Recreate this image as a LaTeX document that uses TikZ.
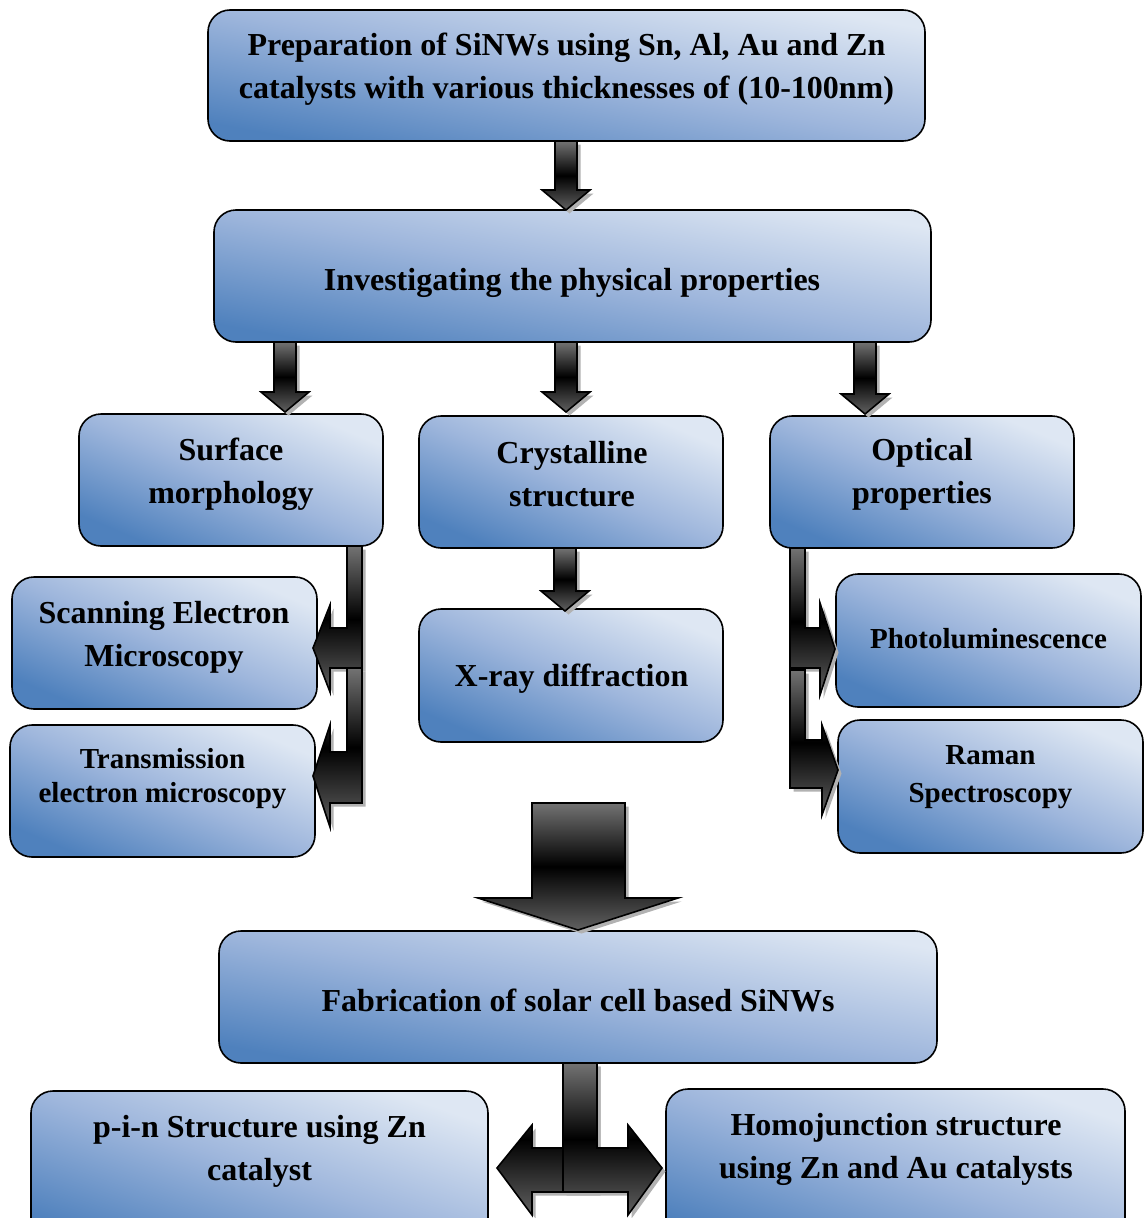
\documentclass[tikz,border=0pt]{standalone}
\usepackage{fontspec}
\setmainfont{Liberation Serif}
\usetikzlibrary{calc}
\definecolor{bdark}{RGB}{79,129,189}
\definecolor{bmid}{RGB}{158,182,220}
\definecolor{blight}{RGB}{222,231,243}
\tikzset{
  box/.style={draw=black, line width=1.6pt, rounded corners=22pt,
    top color=blight, bottom color=bdark, middle color=bmid, shading angle=#1, inner sep=0pt},
  box/.default=-23,
  txt/.style={font=\bfseries\fontsize{32}{43}\selectfont, align=center, text=black, inner sep=0pt},
  txtsmall/.style={txt, font=\bfseries\fontsize{29}{34}\selectfont},
  arr/.style={draw=black, line width=1.6pt, line join=miter,
    top color=black!55, bottom color=black!62, middle color=black},
  arrsh/.style={fill=black!30, draw=none},
}
\newcommand\fatarrow[1]{\path[arrsh, shift={(3.5,3.5)}] #1; \path[arr] #1;}
\newcommand\downar[3]{\fatarrow{(#1-11,#2) -- (#1-11,#3-20) -- (#1-24,#3-20) -- (#1,#3) -- (#1+24,#3-20) -- (#1+11,#3-20) -- (#1+11,#2) -- cycle}}
\begin{document}
\begin{tikzpicture}[x=1pt,y=-1pt]
\clip (0,0) rectangle (1144,1218);
\fill[white] (0,0) rectangle (1144,1218);
% boxes
\node[box=-10.4, minimum width=717pt, minimum height=131pt] (prep) at (566.5,75.5) {};
\node[box=-10.4, minimum width=717pt, minimum height=132pt] (inv) at (572.5,276) {};
\node[box, minimum width=304pt, minimum height=132pt] (surf) at (231,480) {};
\node[box, minimum width=304pt, minimum height=132pt] (cryst) at (571,482) {};
\node[box, minimum width=304pt, minimum height=132pt] (opt) at (922,482) {};
\node[box, minimum width=305pt, minimum height=132pt] (sem) at (164.5,643) {};
\node[box, minimum width=305pt, minimum height=132pt] (tem) at (162.5,791) {};
\node[box, minimum width=304pt, minimum height=133pt] (xrd) at (571,675.5) {};
\node[box, minimum width=305pt, minimum height=133pt] (pl) at (988.5,640.5) {};
\node[box, minimum width=305pt, minimum height=133pt] (raman) at (990.5,786.5) {};
\node[box=-10.4, minimum width=718pt, minimum height=132pt] (fab) at (578,997) {};
\node[box=-19, minimum width=457pt, minimum height=159pt] (pin) at (259.5,1170.5) {};
\node[box=-19, minimum width=459pt, minimum height=161pt] (homo) at (895.5,1169.5) {};
% texts
\node[txt] (prep-t) at (566.5,69) {Preparation of SiNWs using Sn, Al, Au and Zn\\catalysts with various thicknesses of (10-100nm)};
\node[txt] (inv-t) at (572,283) {Investigating the physical properties};
\node[txt] (surf-t) at (231,474) {Surface\\morphology};
\node[txt] (cryst-t) at (572,474.5) {Crystalline\\structure};
\node[txt] (opt-t) at (922,474.5) {Optical\\properties};
\node[txt] (sem-t) at (164,637) {Scanning Electron\\Microscopy};
\node[txtsmall] (tem-t) at (162.5,779) {Transmission\\electron microscopy};
\node[txt] (xrd-t) at (571.5,679) {X-ray diffraction};
\node[txtsmall] (pl-t) at (988.5,639) {Photoluminescence};
\node[txtsmall, font=\bfseries\fontsize{29}{38}\selectfont] (raman-t) at (990.5,777) {Raman\\Spectroscopy};
\node[txt] (fab-t) at (578,1000) {Fabrication of solar cell based SiNWs};
\node[txt] (pin-t) at (259.5,1151) {p-i-n Structure using Zn\\catalyst};
\node[txt] (homo-t) at (896,1149) {Homojunction structure\\using Zn and Au catalysts};
% straight arrows
\downar{566}{141}{210}
\downar{285}{342}{412}
\downar{566}{342}{412}
\downar{865}{342}{414}
\downar{565}{548}{611}
% left bent arrows
\fatarrow{(347,546) -- (347,628) -- (330,628) -- (330,605) -- (313,648) -- (330,692) -- (330,668) -- (362,668) -- (362,546) -- cycle}
\fatarrow{(347,668) -- (347,752) -- (330,752) -- (330,725) -- (313,776) -- (330,827) -- (330,803) -- (362,803) -- (362,668) -- cycle}
% right bent arrows
\fatarrow{(805,548) -- (805,628) -- (820,628) -- (820,603) -- (835,649) -- (820,695) -- (820,668) -- (790,668) -- (790,548) -- cycle}
\fatarrow{(805,670) -- (805,740) -- (822,740) -- (822,725) -- (838,770) -- (822,815) -- (822,788) -- (790,788) -- (790,670) -- cycle}
% big arrow
\fatarrow{(532,803) -- (532,898) -- (478,898) -- (578,930) -- (678,898) -- (625,898) -- (625,803) -- cycle}
% bottom double arrow
\fatarrow{(597,1063) -- (597,1192) -- (532,1192) -- (532,1215) -- (497,1168) -- (532,1125) -- (532,1148) -- (563,1148) -- (563,1063) -- cycle}
\fatarrow{(563,1063) -- (563,1192) -- (628,1192) -- (628,1215) -- (662,1168) -- (628,1125) -- (628,1148) -- (597,1148) -- (597,1063) -- cycle}
\end{tikzpicture}
\end{document}
